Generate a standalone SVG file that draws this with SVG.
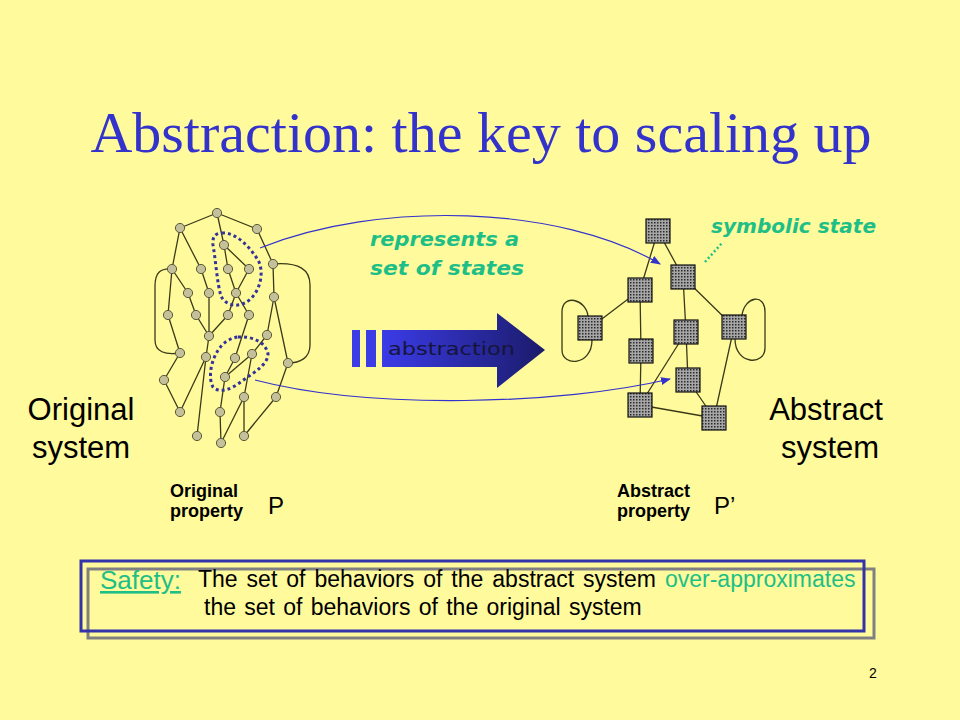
<svg xmlns="http://www.w3.org/2000/svg" width="960" height="720" viewBox="0 0 960 720">
<defs>
<style>
.e{stroke:#3a3a1a;stroke-width:1.3;fill:none}
.n{fill:#c4c09a;stroke:#5a5a3a;stroke-width:1}
.sq{fill:url(#dots);stroke:#111;stroke-width:1.2}
.dl{fill:none;stroke:#33339a;stroke-width:3;stroke-dasharray:3 3}
.ba{fill:none;stroke:#3333cc;stroke-width:1.2}
.comic{font-family:"DejaVu Sans",sans-serif;font-style:oblique;font-weight:bold;fill:#1dbf86}
.ar{font-family:"Liberation Sans",Arial,sans-serif;fill:#000}
</style>
<pattern id="dots" width="3" height="3" patternUnits="userSpaceOnUse">
<rect width="3" height="3" fill="#a6a6a6"/>
<rect width="1.5" height="1.5" fill="#2a2a2a"/>
</pattern>
<linearGradient id="ag" x1="0" y1="0" x2="1" y2="0">
<stop offset="0" stop-color="#3b3be8"/>
<stop offset="1" stop-color="#1b1b6a"/>
</linearGradient>
<marker id="ah" markerWidth="10" markerHeight="8" refX="9" refY="4" orient="auto" markerUnits="userSpaceOnUse">
<path d="M0,0 L10,4 L0,8 Z" fill="#3333cc"/>
</marker>
</defs>
<rect width="960" height="720" fill="#fffa9c"/>

<text x="481" y="152" text-anchor="middle" font-family="'Liberation Serif','Times New Roman',serif" font-size="58" fill="#3333cc">Abstraction: the key to scaling up</text>

<!-- left graph connectors -->
<g id="left-edges">
<path class="e" d="M217,213 L180,228 M217,213 L257,229 M217,213 L224,245 M224,245 L228,269 M224,245 L249,269 M228,269 L236,293 M249,269 L236,293 M236,293 L228,315 M236,293 L249,315 M257,229 L273,264 M273,264 L274,297 M274,297 L267,335 M274,297 L288,363 M180,228 L172,269 M180,228 L201,269 M172,269 L188,293 M172,269 L168,315 M168,315 L180,353 M201,269 L209,293 M188,293 L196,315 M196,315 L209,336 M209,293 L209,336 M228,315 L209,336 M209,336 L206,357 M206,357 L197,436 M180,353 L164,380 M164,380 L180,412 M180,412 L206,357 M249,315 L235,358 M235,358 L225,377 M252,354 L225,377 M267,335 L252,354 M252,354 L244,397 M225,377 L220,412 M220,412 L221,443 M244,397 L221,443 M244,397 L244,436 M288,363 L276,397 M276,397 L244,436"/>
<path class="e" d="M172,269 C160,268 155,273 155,286 L155,340 C155,352 165,355 180,353"/>
<path class="e" d="M273,264 C300,262 310,270 310,285 L310,345 C310,358 300,363 288,363"/>
</g>

<!-- dotted regions -->
<path class="dl" d="M222,233 C235,232 250,246 259,262 C264,274 260,292 248,301 C238,308 226,306 221,296 C217,283 216,262 213,245 C212,236 216,233 222,233 Z"/>
<path class="dl" d="M238,337 C252,336 266,342 268,354 C268,364 255,372 242,381 C232,389 220,394 213,387 C208,378 211,362 217,352 C222,343 230,338 238,337 Z"/>

<g id="left-nodes">
<g id="n-a"><circle class="n" cx="217" cy="213" r="4.6"/></g>
<g id="n-b"><circle class="n" cx="180" cy="228" r="4.6"/></g>
<g id="n-c"><circle class="n" cx="257" cy="229" r="4.6"/></g>
<g id="n-d"><circle class="n" cx="224" cy="245" r="4.6"/></g>
<g id="n-e"><circle class="n" cx="273" cy="264" r="4.6"/></g>
<g id="n-f"><circle class="n" cx="172" cy="269" r="4.6"/></g>
<g id="n-g"><circle class="n" cx="201" cy="269" r="4.6"/></g>
<g id="n-h"><circle class="n" cx="228" cy="269" r="4.6"/></g>
<g id="n-i"><circle class="n" cx="249" cy="269" r="4.6"/></g>
<g id="n-j"><circle class="n" cx="188" cy="293" r="4.6"/></g>
<g id="n-k"><circle class="n" cx="209" cy="293" r="4.6"/></g>
<g id="n-l"><circle class="n" cx="236" cy="293" r="4.6"/></g>
<g id="n-m"><circle class="n" cx="274" cy="297" r="4.6"/></g>
<g id="n-n"><circle class="n" cx="168" cy="315" r="4.6"/></g>
<g id="n-o"><circle class="n" cx="196" cy="315" r="4.6"/></g>
<g id="n-p"><circle class="n" cx="228" cy="315" r="4.6"/></g>
<g id="n-q"><circle class="n" cx="249" cy="315" r="4.6"/></g>
<g id="n-r"><circle class="n" cx="209" cy="336" r="4.6"/></g>
<g id="n-s"><circle class="n" cx="267" cy="335" r="4.6"/></g>
<g id="n-t"><circle class="n" cx="180" cy="353" r="4.6"/></g>
<g id="n-u"><circle class="n" cx="206" cy="357" r="4.6"/></g>
<g id="n-v"><circle class="n" cx="235" cy="358" r="4.6"/></g>
<g id="n-w"><circle class="n" cx="252" cy="354" r="4.6"/></g>
<g id="n-x"><circle class="n" cx="288" cy="363" r="4.6"/></g>
<g id="n-y"><circle class="n" cx="225" cy="377" r="4.6"/></g>
<g id="n-z"><circle class="n" cx="164" cy="380" r="4.6"/></g>
<g id="n-aa"><circle class="n" cx="244" cy="397" r="4.6"/></g>
<g id="n-ab"><circle class="n" cx="276" cy="397" r="4.6"/></g>
<g id="n-ac"><circle class="n" cx="180" cy="412" r="4.6"/></g>
<g id="n-ad"><circle class="n" cx="220" cy="412" r="4.6"/></g>
<g id="n-ae"><circle class="n" cx="197" cy="436" r="4.6"/></g>
<g id="n-af"><circle class="n" cx="221" cy="443" r="4.6"/></g>
<g id="n-ag"><circle class="n" cx="244" cy="436" r="4.6"/></g>
</g>

<!-- right graph connectors -->
<g id="right-edges">
<path class="e" d="M658,231 L683,277 M658,231 L640,290 M640,290 L590,328 M640,290 L641,351 M641,351 L640,405 M683,277 L686,332 M683,277 L734,327 M686,332 L688,380 M686,332 L640,405 M688,380 L714,418 M640,405 L714,418 M734,327 L714,418"/>
<path class="e" d="M588,316 C586,299 562,293 562,312 L562,350 C562,367 592,366 592,340"/>
<path class="e" d="M742,315 C745,296 765,293 765,312 L765,348 C765,366 735,365 735,339"/>
</g>

<g id="right-nodes">
<g id="s1"><rect class="sq" x="646" y="219" width="24" height="24"/></g>
<g id="s2"><rect class="sq" x="671" y="265" width="24" height="24"/></g>
<g id="s3"><rect class="sq" x="628" y="278" width="24" height="24"/></g>
<g id="s4"><rect class="sq" x="578" y="316" width="24" height="24"/></g>
<g id="s5"><rect class="sq" x="674" y="320" width="24" height="24"/></g>
<g id="s6"><rect class="sq" x="722" y="315" width="24" height="24"/></g>
<g id="s7"><rect class="sq" x="629" y="339" width="24" height="24"/></g>
<g id="s8"><rect class="sq" x="676" y="368" width="24" height="24"/></g>
<g id="s9"><rect class="sq" x="628" y="393" width="24" height="24"/></g>
<g id="s10"><rect class="sq" x="702" y="406" width="24" height="24"/></g>
</g>

<!-- mapping arrows -->
<g id="map-arrows">
<path class="ba" d="M260,248 C380,200 560,205 660,264" marker-end="url(#ah)"/>
<path class="ba" d="M255,380 C370,410 560,405 670,379" marker-end="url(#ah)"/>
<path d="M705,262 L722,243" stroke="#1dbf86" stroke-width="2.5" stroke-dasharray="2 2.5" fill="none"/>
</g>

<!-- abstraction arrow -->
<g id="abstraction-arrow">
<rect x="352" y="330" width="8" height="37" fill="#3c3ce6"/>
<rect x="366" y="330" width="10" height="37" fill="#3c3ce6"/>
<polygon points="382,330 497,330 497,313 545,350 497,388 497,367 382,367" fill="url(#ag)"/>
<text x="388" y="355" font-family="'DejaVu Sans',sans-serif" font-size="17" fill="#15153a" textLength="127" lengthAdjust="spacingAndGlyphs">abstraction</text>
</g>

<text class="comic" x="370" y="246" font-size="19" textLength="149" lengthAdjust="spacingAndGlyphs">represents a</text>
<text class="comic" x="370" y="275" font-size="19" textLength="154" lengthAdjust="spacingAndGlyphs">set of states</text>
<text class="comic" x="711" y="233" font-size="19" textLength="165" lengthAdjust="spacingAndGlyphs">symbolic state</text>

<text class="ar" x="81" y="420" font-size="31" text-anchor="middle">Original</text>
<text class="ar" x="81" y="458" font-size="31" text-anchor="middle">system</text>
<text class="ar" x="826" y="420" font-size="31" text-anchor="middle">Abstract</text>
<text class="ar" x="830" y="458" font-size="31" text-anchor="middle">system</text>

<text class="ar" x="170" y="497" font-size="18" font-weight="bold">Original</text>
<text class="ar" x="170" y="517" font-size="18" font-weight="bold">property</text>
<text class="ar" x="268" y="514" font-size="24">P</text>
<text class="ar" x="617" y="497" font-size="18" font-weight="bold">Abstract</text>
<text class="ar" x="617" y="517" font-size="18" font-weight="bold">property</text>
<text class="ar" x="714" y="514" font-size="24">P’</text>

<!-- bottom box -->
<g id="safety-box">
<rect x="88" y="569" width="786" height="69" fill="none" stroke="#808080" stroke-width="3"/>
<rect x="81" y="561" width="783" height="70" fill="none" stroke="#3333aa" stroke-width="3"/>
<text x="100" y="589" font-family="'Liberation Sans',Arial,sans-serif" font-size="26" fill="#1dbf86" text-decoration="underline">Safety:</text>
<text x="198" y="587" font-family="'Liberation Sans',Arial,sans-serif" font-size="23" fill="#000" word-spacing="2.6">The set of behaviors of the abstract system <tspan fill="#1dbf86">over-approximates</tspan></text>
<text x="204" y="615" font-family="'Liberation Sans',Arial,sans-serif" font-size="23" fill="#000" word-spacing="1.9">the set of behaviors of the original system</text>
</g>

<text class="ar" x="873" y="678" font-size="14" text-anchor="middle">2</text>
</svg>
